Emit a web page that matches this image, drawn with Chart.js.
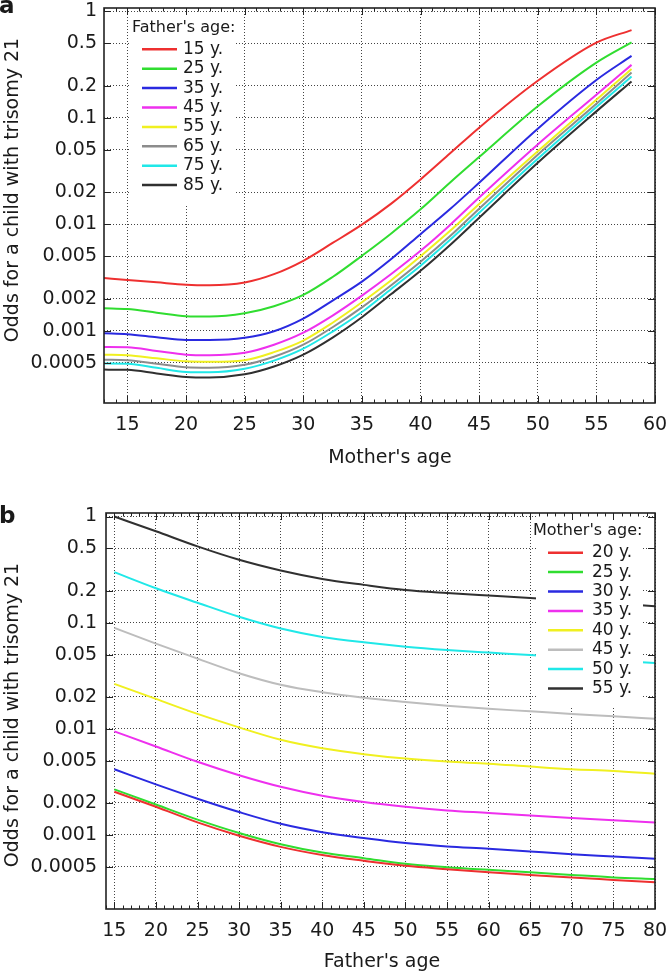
<!DOCTYPE html>
<html><head><meta charset="utf-8">
<script src="https://cdn.jsdelivr.net/npm/chart.js@4/dist/chart.umd.min.js"></script>
<style>
html,body{margin:0;padding:0;background:#fff;}
#wa{position:absolute;left:0;top:0;width:668px;height:475px;}
#wb{position:absolute;left:0;top:475px;width:668px;height:500px;}
</style></head><body>
<div id="wa"><canvas id="ca" width="668" height="475"></canvas></div>
<div id="wb"><canvas id="cb" width="668" height="500"></canvas></div>
<script>
const FONT = "'DejaVu Sans', sans-serif";

// ---- shared tick labels ----
const yTickValues = [1, 0.5, 0.2, 0.1, 0.05, 0.02, 0.01, 0.005, 0.002, 0.001, 0.0005];
const yTickLabels = ['1', '0.5', '0.2', '0.1', '0.05', '0.02', '0.01', '0.005', '0.002', '0.001', '0.0005'];
const xTicksA = [15, 20, 25, 30, 35, 40, 45, 50, 55, 60];
const xTicksB = [15, 20, 25, 30, 35, 40, 45, 50, 55, 60, 65, 70, 75, 80];

// ---- panel a: odds vs mother's age, one series per father's age ----
const motherAges = [13, 15, 17.5, 20, 22, 25, 27.5, 30, 32.5, 35, 37.5, 40, 42.5, 45, 50, 55, 58];
const fatherLabels = ['15 y.', '25 y.', '35 y.', '45 y.', '55 y.', '65 y.', '75 y.', '85 y.'];
const oddsFather15 = [0.00313, 0.0030, 0.00285, 0.00271, 0.00268, 0.00284, 0.0034, 0.00454, 0.00667, 0.0099, 0.0156, 0.0263, 0.046, 0.0806, 0.222, 0.506, 0.664];
const oddsFather25 = [0.00163, 0.00160, 0.00148, 0.00137, 0.00136, 0.00146, 0.0017, 0.00217, 0.0032, 0.00506, 0.0082, 0.0138, 0.0245, 0.0427, 0.128, 0.329, 0.51];
const oddsFather35 = [0.00095, 0.00093, 0.00087, 0.00082, 0.00082, 0.00086, 0.00099, 0.0013, 0.00192, 0.00289, 0.00471, 0.00807, 0.0138, 0.0245, 0.0789, 0.226, 0.38];
const oddsFather45 = [0.000703, 0.00070, 0.000646, 0.000597, 0.00059, 0.000622, 0.00074, 0.00096, 0.00139, 0.00214, 0.00341, 0.00563, 0.0098, 0.0178, 0.056, 0.164, 0.313];
const oddsFather55 = [0.000597, 0.00059, 0.000552, 0.000517, 0.000512, 0.00053, 0.00063, 0.00081, 0.00119, 0.00185, 0.00298, 0.0050, 0.00862, 0.0155, 0.0484, 0.147, 0.287];
const oddsFather65 = [0.000536, 0.00053, 0.000491, 0.000454, 0.00045, 0.00048, 0.00057, 0.00074, 0.00108, 0.00166, 0.00268, 0.00445, 0.0077, 0.0140, 0.045, 0.135, 0.265];
const oddsFather75 = [0.000492, 0.00049, 0.000449, 0.000411, 0.000408, 0.00044, 0.000525, 0.00068, 0.000984, 0.0015, 0.00247, 0.00408, 0.0071, 0.0128, 0.0411, 0.126, 0.243];
const oddsFather85 = [0.000432, 0.00043, 0.000398, 0.000369, 0.000365, 0.00039, 0.000462, 0.000597, 0.000863, 0.00134, 0.00221, 0.00366, 0.00636, 0.0115, 0.0377, 0.1146, 0.219];
const seriesA = [oddsFather15, oddsFather25, oddsFather35, oddsFather45, oddsFather55, oddsFather65, oddsFather75, oddsFather85];

// ---- panel b: odds vs father's age, one series per mother's age ----
const fatherAges = [15, 20, 25, 30, 35, 40, 45, 50, 55, 60, 65, 70, 75, 80];
const motherLabels = ['20 y.', '25 y.', '30 y.', '35 y.', '40 y.', '45 y.', '50 y.', '55 y.'];
const oddsMother20 = [0.00255, 0.00184, 0.00131, 0.00098, 0.00077, 0.000645, 0.000569, 0.00051, 0.000474, 0.000444, 0.000419, 0.000396, 0.000376, 0.000357];
const oddsMother25 = [0.00268, 0.00193, 0.00139, 0.00104, 0.000815, 0.00068, 0.000603, 0.000533, 0.000495, 0.000468, 0.000444, 0.000419, 0.000397, 0.000384];
const oddsMother30 = [0.00415, 0.00299, 0.00219, 0.00164, 0.00127, 0.00106, 0.000933, 0.000836, 0.000778, 0.00074, 0.000697, 0.000657, 0.000625, 0.000594];
const oddsMother35 = [0.00944, 0.00681, 0.00488, 0.00365, 0.00284, 0.00234, 0.00204, 0.00184, 0.0017, 0.00161, 0.00152, 0.00144, 0.00137, 0.00131];
const oddsMother40 = [0.0265, 0.0191, 0.0138, 0.0103, 0.00787, 0.00655, 0.00576, 0.00523, 0.0049, 0.00469, 0.0044, 0.00415, 0.0040, 0.00377];
const oddsMother45 = [0.0893, 0.0635, 0.0458, 0.0334, 0.026, 0.0221, 0.0196, 0.0179, 0.0165, 0.0154, 0.0146, 0.0138, 0.0131, 0.0124];
const oddsMother50 = [0.299, 0.211, 0.154, 0.1135, 0.088, 0.0734, 0.0652, 0.0594, 0.0553, 0.0522, 0.0495, 0.0465, 0.044, 0.0416];
const oddsMother55 = [1.0, 0.726, 0.523, 0.391, 0.31, 0.258, 0.227, 0.203, 0.19, 0.18, 0.171, 0.161, 0.151, 0.143];
const seriesB = [oddsMother20, oddsMother25, oddsMother30, oddsMother35, oddsMother40, oddsMother45, oddsMother50, oddsMother55];

const colorsA = ['#ee3030', '#30dd30', '#2a2ae0', '#ee30ee', '#f0f020', '#8c8c8c', '#20e8e8', '#303030'];
const colorsB = ['#ee3030', '#30dd30', '#2a2ae0', '#ee30ee', '#f0f020', '#bdbdbd', '#20e8e8', '#303030'];

function buildDatasets(xs, series, labels, colors) {
  return series.map((vals, i) => ({
    label: labels[i],
    data: xs.map((x, j) => ({ x: x, y: vals[j] })),
    borderColor: colors[i],
    backgroundColor: colors[i],
    borderWidth: 2,
    pointRadius: 0,
    fill: false,
    cubicInterpolationMode: 'monotone'
  }));
}

const decor = {
  id: 'decor',
  afterDatasetsDraw(chart, args, o) {
    const ctx = chart.ctx;
    ctx.save();
    ctx.fillStyle = '#fff';
    ctx.fillRect(o.box[0], o.box[1], o.box[2], o.box[3]);
    ctx.fillStyle = '#1a1a1a';
    ctx.textBaseline = 'middle';
    ctx.textAlign = 'left';
    ctx.font = '16px ' + FONT;
    ctx.fillText(o.legendTitle, o.titleX, o.titleY);
    ctx.font = '17px ' + FONT;
    chart.data.datasets.forEach((ds, i) => {
      const y = o.rowY0 + i * o.rowDy;
      ctx.strokeStyle = ds.borderColor;
      ctx.lineWidth = 2.5;
      ctx.beginPath(); ctx.moveTo(o.lineX0, y); ctx.lineTo(o.lineX1, y); ctx.stroke();
      ctx.fillText(ds.label, o.textX, y);
    });
    ctx.restore();
  },
  afterDraw(chart, args, o) {
    const ctx = chart.ctx;
    const ca = chart.chartArea;
    const xs = chart.scales.x, ys = chart.scales.y;
    ctx.save();
    const seg = (x1, y1, x2, y2) => { ctx.beginPath(); ctx.moveTo(x1, y1); ctx.lineTo(x2, y2); ctx.stroke(); };
    ctx.strokeStyle = '#222';
    ctx.lineWidth = 1;
    for (let v = Math.ceil(xs.min); v <= xs.max; v++) {
      const px = Math.round(xs.getPixelForValue(v)) + 0.5;
      const len = (v % 5 === 0) ? 7 : 3.5;
      seg(px, ca.bottom, px, ca.bottom - len);
      seg(px, ca.top, px, ca.top + len);
    }
    ys.ticks.forEach(t => {
      const py = Math.round(ys.getPixelForValue(t.value)) + 0.5;
      seg(ca.left, py, ca.left + 7, py);
      seg(ca.right, py, ca.right - 7, py);
    });
    ctx.lineWidth = 1.6;
    ctx.strokeRect(ca.left, ca.top, ca.right - ca.left, ca.bottom - ca.top);
    // axis titles
    ctx.fillStyle = '#1a1a1a';
    ctx.font = '19px ' + FONT;
    ctx.textAlign = 'center';
    ctx.textBaseline = 'middle';
    ctx.fillText(o.xTitle, o.xTitlePos[0], o.xTitlePos[1]);
    ctx.save();
    ctx.translate(o.yTitlePos[0], o.yTitlePos[1]);
    ctx.rotate(-Math.PI / 2);
    ctx.fillText(o.yTitle, 0, 0);
    ctx.restore();
    // panel letter
    ctx.font = 'bold 23px ' + FONT;
    ctx.textAlign = 'left';
    ctx.textBaseline = 'alphabetic';
    ctx.fillText(o.letter, o.letterPos[0], o.letterPos[1]);
    ctx.restore();
  }
};

function makeChart(canvasId, cfg) {
  return new Chart(document.getElementById(canvasId), {
    type: 'line',
    data: { datasets: cfg.datasets },
    plugins: [decor],
    options: {
      responsive: false,
      devicePixelRatio: 1,
      animation: false,
      layout: { padding: { left: 0, right: 13, top: cfg.padTop, bottom: 0 } },
      scales: {
        x: {
          type: 'linear',
          min: cfg.xmin, max: cfg.xmax,
          afterBuildTicks: s => { s.ticks = cfg.xticks.map(v => ({ value: v })); },
          afterFit: s => { s.height = cfg.xAxisH; s.paddingLeft = 0; s.paddingRight = 0; },
          grid: { color: '#444', lineWidth: 1, drawTicks: false },
          border: { display: false, dash: [1, 2] },
          ticks: { autoSkip: false, maxRotation: 0, padding: cfg.xTickPad, color: '#1a1a1a',
                   font: { family: FONT, size: 19 }, callback: v => String(v) }
        },
        y: {
          type: 'logarithmic',
          min: cfg.ymin, max: cfg.ymax,
          afterBuildTicks: s => { s.ticks = yTickValues.map(v => ({ value: v })); },
          afterFit: s => { s.width = cfg.yAxisW; s.paddingTop = 0; s.paddingBottom = 0; },
          grid: { color: '#444', lineWidth: 1, drawTicks: false },
          border: { display: false, dash: [1, 2] },
          ticks: { autoSkip: false, padding: cfg.yTickPad, color: '#1a1a1a',
                   font: { family: FONT, size: 19 }, callback: (v, i) => yTickLabels[i] }
        }
      },
      plugins: {
        legend: { display: false },
        tooltip: { enabled: false },
        decor: cfg.decor
      }
    }
  });
}

makeChart('ca', {
  datasets: buildDatasets(motherAges, seriesA, fatherLabels, colorsA),
  xmin: 13, xmax: 60, xticks: xTicksA,
  ymin: 0.00021, ymax: 1.07,
  padTop: 8, xAxisH: 72, yAxisW: 104, xTickPad: 11, yTickPad: 7,
  decor: {
    box: [129, 12, 106, 193],
    legendTitle: "Father's age:", titleX: 132, titleY: 28,
    rowY0: 49.3, rowDy: 19.4, lineX0: 142, lineX1: 177, textX: 183,
    xTitle: "Mother's age", xTitlePos: [390, 458],
    yTitle: 'Odds for a child with trisomy 21', yTitlePos: [13, 190],
    letter: 'a', letterPos: [-1, 13]
  }
});

makeChart('cb', {
  datasets: buildDatasets(fatherAges, seriesB, motherLabels, colorsB),
  xmin: 14, xmax: 80, xticks: xTicksB,
  ymin: 0.0002, ymax: 1.08,
  padTop: 38, xAxisH: 66, yAxisW: 106, xTickPad: 11, yTickPad: 9,
  decor: {
    box: [536, 41, 107, 190],
    legendTitle: "Mother's age:", titleX: 533, titleY: 56,
    rowY0: 77.7, rowDy: 19.4, lineX0: 548, lineX1: 583, textX: 592,
    xTitle: "Father's age", xTitlePos: [382, 487],
    yTitle: 'Odds for a child with trisomy 21', yTitlePos: [13, 240],
    letter: 'b', letterPos: [-1, 48]
  }
});
</script>
</body></html>
